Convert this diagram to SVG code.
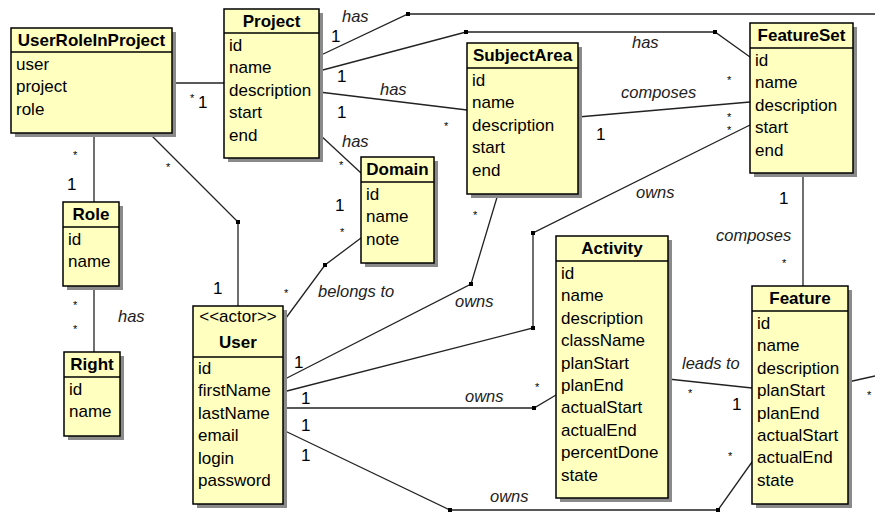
<svg xmlns="http://www.w3.org/2000/svg" width="875" height="513" viewBox="0 0 875 513">
<style>
.sh{fill:#8a8a8a}
.bx{fill:#ffffc0;stroke:#000;stroke-width:1.5}
.sp{stroke:#000;stroke-width:1.3}
.hd{font-family:"Liberation Sans",Arial,sans-serif;font-weight:bold;font-size:17px;text-anchor:middle;fill:#000}
.at{font-family:"Liberation Sans",Arial,sans-serif;font-size:17px;fill:#000}
.st{font-family:"Liberation Sans",Arial,sans-serif;font-size:17px;text-anchor:middle;fill:#000}
.cn{fill:none;stroke:#222;stroke-width:1.3}
.lb{font-family:"Liberation Sans",Arial,sans-serif;font-style:italic;font-size:16.5px;fill:#222}
.m1{font-family:"Liberation Sans",Arial,sans-serif;font-size:17px;fill:#000}
.ms{font-family:"Liberation Sans",Arial,sans-serif;font-size:11px;fill:#000}
.dt{fill:#000}
</style>
<rect width="875" height="513" fill="#fff"/>
<g id="connectors">
<polyline class="cn" points="172,83 224,83"/>
<polyline class="cn" points="94,133 94,202"/>
<polyline class="cn" points="152,136 238,222 238,306"/>
<polyline class="cn" points="94,286 94,352"/>
<polyline class="cn" points="319,134 361,173"/>
<polyline class="cn" points="319,92 467,110"/>
<polyline class="cn" points="319,71 466,32 715,32 750,57"/>
<polyline class="cn" points="319,56 408,14 875,14"/>
<polyline class="cn" points="578,117 750,102"/>
<polyline class="cn" points="283,380 471,284 498,194"/>
<polyline class="cn" points="283,392 533,328 533,233 750,125"/>
<polyline class="cn" points="283,408 534,408 556,395"/>
<polyline class="cn" points="283,430 450,510 718,510 752,462"/>
<polyline class="cn" points="283,322 325,265 361,238"/>
<polyline class="cn" points="803,173 803,286"/>
<polyline class="cn" points="668,379 752,388"/>
<polyline class="cn" points="848,382 875,376"/>
<g class="dt">
<rect x="406" y="12" width="4" height="4"/>
<rect x="464" y="30" width="4" height="4"/>
<rect x="713" y="30" width="4" height="4"/>
<rect x="236" y="220" width="4" height="4"/>
<rect x="323" y="263" width="4" height="4"/>
<rect x="469" y="282" width="4" height="4"/>
<rect x="531" y="231" width="4" height="4"/>
<rect x="531" y="326" width="4" height="4"/>
<rect x="532" y="406" width="4" height="4"/>
<rect x="448" y="508" width="4" height="4"/>
<rect x="716" y="508" width="4" height="4"/>
</g>
<g id="labels">
<text class="ms" x="190" y="102">*</text><text class="m1" x="198" y="108">1</text>
<text class="ms" x="73" y="159">*</text><text class="m1" x="67" y="190">1</text>
<text class="ms" x="166" y="171">*</text><text class="m1" x="213" y="294">1</text>
<text class="ms" x="73" y="309">*</text><text class="ms" x="73" y="333">*</text>
<text class="lb" x="118" y="322">has</text>
<text class="lb" x="342" y="147">has</text><text class="ms" x="339" y="169">*</text>
<text class="lb" x="380" y="95">has</text><text class="m1" x="337" y="118">1</text><text class="ms" x="444" y="130">*</text>
<text class="lb" x="632" y="48">has</text><text class="m1" x="337" y="82">1</text><text class="ms" x="727" y="84">*</text>
<text class="lb" x="342" y="22">has</text><text class="m1" x="331" y="42">1</text>
<text class="lb" x="621" y="98">composes</text><text class="m1" x="596" y="140">1</text><text class="ms" x="727" y="121">*</text>
<text class="lb" x="455" y="307">owns</text><text class="ms" x="473" y="219">*</text>
<text class="lb" x="636" y="198">owns</text><text class="ms" x="727" y="134">*</text><text class="m1" x="294" y="368">1</text>
<text class="lb" x="465" y="402">owns</text><text class="ms" x="535" y="391">*</text><text class="m1" x="301" y="404">1</text>
<text class="lb" x="490" y="502">owns</text><text class="ms" x="728" y="460">*</text><text class="m1" x="301" y="431">1</text><text class="m1" x="301" y="461">1</text>
<text class="lb" x="318" y="297">belongs to</text><text class="ms" x="284" y="297">*</text><text class="m1" x="335" y="211">1</text><text class="ms" x="340" y="236">*</text>
<text class="m1" x="779" y="204">1</text><text class="lb" x="716" y="241">composes</text><text class="ms" x="782" y="267">*</text>
<text class="lb" x="682" y="369">leads to</text><text class="ms" x="688" y="397">*</text><text class="m1" x="732" y="410">1</text>
<text class="ms" x="867" y="399">*</text>
</g>
</g>
<g id="UserRoleInProject">
<rect class="sh" x="15" y="32" width="161" height="105"/>
<rect class="bx" x="11" y="28" width="161" height="105"/>
<line class="sp" x1="11" y1="52" x2="172" y2="52"/>
<text class="hd" x="91.5" y="46">UserRoleInProject</text>
<text class="at" x="16" y="70">user</text><text class="at" x="16" y="92.4">project</text><text class="at" x="16" y="114.8">role</text>
</g>
<g id="Project">
<rect class="sh" x="228" y="13" width="95" height="149"/>
<rect class="bx" x="224" y="9" width="95" height="149"/>
<line class="sp" x1="224" y1="33" x2="319" y2="33"/>
<text class="hd" x="271.5" y="27">Project</text>
<text class="at" x="229" y="51">id</text><text class="at" x="229" y="73.4">name</text><text class="at" x="229" y="95.8">description</text><text class="at" x="229" y="118.2">start</text><text class="at" x="229" y="140.6">end</text>
</g>
<g id="SubjectArea">
<rect class="sh" x="471" y="47" width="111" height="151"/>
<rect class="bx" x="467" y="43" width="111" height="151"/>
<line class="sp" x1="467" y1="68" x2="578" y2="68"/>
<text class="hd" x="522.5" y="61">SubjectArea</text>
<text class="at" x="472" y="86">id</text><text class="at" x="472" y="108.4">name</text><text class="at" x="472" y="130.8">description</text><text class="at" x="472" y="153.2">start</text><text class="at" x="472" y="175.6">end</text>
</g>
<g id="FeatureSet">
<rect class="sh" x="754" y="27" width="103" height="150"/>
<rect class="bx" x="750" y="23" width="103" height="150"/>
<line class="sp" x1="750" y1="48" x2="853" y2="48"/>
<text class="hd" x="801.5" y="41">FeatureSet</text>
<text class="at" x="755" y="66">id</text><text class="at" x="755" y="88.4">name</text><text class="at" x="755" y="110.8">description</text><text class="at" x="755" y="133.2">start</text><text class="at" x="755" y="155.6">end</text>
</g>
<g id="Domain">
<rect class="sh" x="365" y="161" width="73" height="106"/>
<rect class="bx" x="361" y="157" width="73" height="106"/>
<line class="sp" x1="361" y1="182" x2="434" y2="182"/>
<text class="hd" x="397.5" y="175">Domain</text>
<text class="at" x="366" y="200">id</text><text class="at" x="366" y="222.4">name</text><text class="at" x="366" y="244.8">note</text>
</g>
<g id="Role">
<rect class="sh" x="67" y="206" width="56" height="84"/>
<rect class="bx" x="63" y="202" width="56" height="84"/>
<line class="sp" x1="63" y1="227" x2="119" y2="227"/>
<text class="hd" x="91" y="220">Role</text>
<text class="at" x="68" y="245">id</text><text class="at" x="68" y="267.4">name</text>
</g>
<g id="Right">
<rect class="sh" x="68" y="356" width="56" height="84"/>
<rect class="bx" x="64" y="352" width="56" height="84"/>
<line class="sp" x1="64" y1="377" x2="120" y2="377"/>
<text class="hd" x="92" y="370">Right</text>
<text class="at" x="69" y="395">id</text><text class="at" x="69" y="417.4">name</text>
</g>
<g id="User">
<rect class="sh" x="197" y="310" width="90" height="198"/>
<rect class="bx" x="193" y="306" width="90" height="198"/>
<line class="sp" x1="193" y1="357" x2="283" y2="357"/>
<text class="st" x="238" y="322">&lt;&lt;actor&gt;&gt;</text>
<text class="hd" x="238" y="348">User</text>
<text class="at" x="198" y="374">id</text><text class="at" x="198" y="396.4">firstName</text><text class="at" x="198" y="418.8">lastName</text><text class="at" x="198" y="441.2">email</text><text class="at" x="198" y="463.6">login</text><text class="at" x="198" y="486">password</text>
</g>
<g id="Activity">
<rect class="sh" x="560" y="240" width="112" height="262"/>
<rect class="bx" x="556" y="236" width="112" height="262"/>
<line class="sp" x1="556" y1="261" x2="668" y2="261"/>
<text class="hd" x="612" y="254">Activity</text>
<text class="at" x="561" y="279">id</text><text class="at" x="561" y="301.4">name</text><text class="at" x="561" y="323.8">description</text><text class="at" x="561" y="346.2">className</text><text class="at" x="561" y="368.6">planStart</text><text class="at" x="561" y="391">planEnd</text><text class="at" x="561" y="413.4">actualStart</text><text class="at" x="561" y="435.8">actualEnd</text><text class="at" x="561" y="458.2">percentDone</text><text class="at" x="561" y="480.6">state</text>
</g>
<g id="Feature">
<rect class="sh" x="756" y="290" width="96" height="218"/>
<rect class="bx" x="752" y="286" width="96" height="218"/>
<line class="sp" x1="752" y1="311" x2="848" y2="311"/>
<text class="hd" x="800" y="304">Feature</text>
<text class="at" x="757" y="329">id</text><text class="at" x="757" y="351.4">name</text><text class="at" x="757" y="373.8">description</text><text class="at" x="757" y="396.2">planStart</text><text class="at" x="757" y="418.6">planEnd</text><text class="at" x="757" y="441">actualStart</text><text class="at" x="757" y="463.4">actualEnd</text><text class="at" x="757" y="485.8">state</text>
</g>
</svg>
